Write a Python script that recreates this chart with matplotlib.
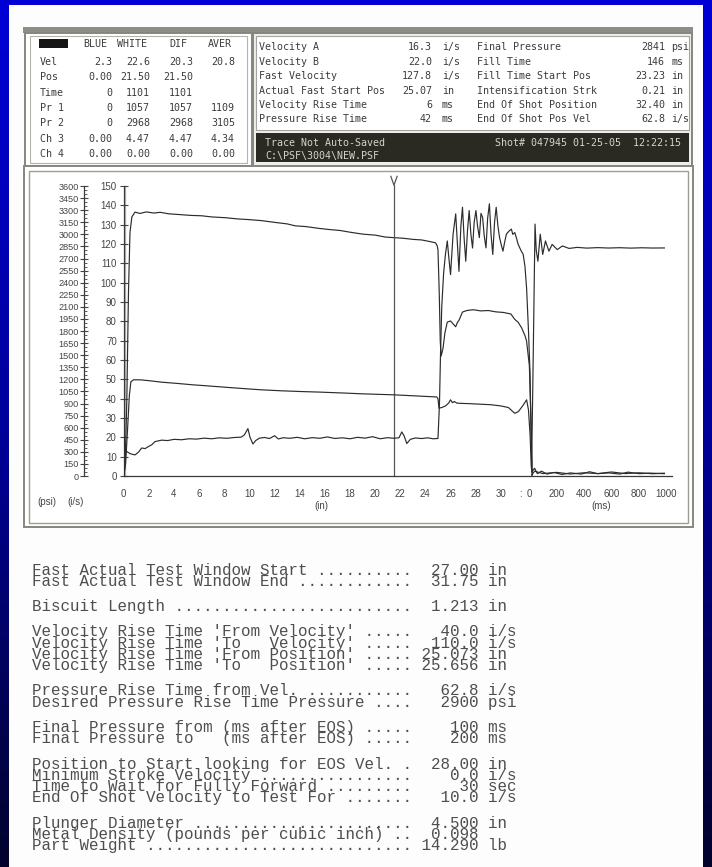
import numpy as np
import matplotlib
matplotlib.use("Agg")
import matplotlib.pyplot as plt
from matplotlib.patches import Rectangle
from matplotlib.colors import LinearSegmentedColormap
from matplotlib.ticker import MultipleLocator

W, H = 712, 867

# ---- shot data -------------------------------------------------------
TABLE_COLS = ["BLUE", "WHITE", "DIF", "AVER"]
TABLE_ROWS = ["Vel", "Pos", "Time", "Pr 1", "Pr 2", "Ch 3", "Ch 4"]
TABLE_VALUES = [
    ["2.3", "22.6", "20.3", "20.8"],
    ["0.00", "21.50", "21.50", ""],
    ["0", "1101", "1101", ""],
    ["0", "1057", "1057", "1109"],
    ["0", "2968", "2968", "3105"],
    ["0.00", "4.47", "4.47", "4.34"],
    ["0.00", "0.00", "0.00", "0.00"],
]
CURSOR_BLUE = 0.00
CURSOR_WHITE = 21.50

SUMMARY_LEFT = [
    ("Velocity A", "16.3", "i/s"),
    ("Velocity B", "22.0", "i/s"),
    ("Fast Velocity", "127.8", "i/s"),
    ("Actual Fast Start Pos", "25.07", "in"),
    ("Velocity Rise Time", "6", "ms"),
    ("Pressure Rise Time", "42", "ms"),
]
SUMMARY_RIGHT = [
    ("Final Pressure", "2841", "psi"),
    ("Fill Time", "146", "ms"),
    ("Fill Time Start Pos", "23.23", "in"),
    ("Intensification Strk", "0.21", "in"),
    ("End Of Shot Position", "32.40", "in"),
    ("End Of Shot Pos Vel", "62.8", "i/s"),
]
STATUS_LINES = ["Trace Not Auto-Saved", "C:\\PSF\\3004\\NEW.PSF"]
SHOT_STAMP = "Shot# 047945 01-25-05  12:22:15"

# velocity (i/s) against plunger position (in)
VEL_SHOT = [
    (0.0, 0), (0.12, 6), (0.25, 40), (0.38, 95), (0.5, 126), (0.65, 134),
    (0.9, 136.5), (1.3, 135.8), (1.8, 136.6), (2.4, 136.0), (2.9, 136.4),
    (3.6, 135.6), (4.5, 135.2), (5.3, 134.8), (6.2, 134.6), (7.0, 134.0),
    (8.1, 133.6), (9.0, 133.0), (10.0, 132.6), (10.95, 132.1), (12.0, 131.2),
    (13.0, 130.4), (13.64, 129.4), (14.5, 129.0), (15.5, 128.1), (16.33, 127.5),
    (17.2, 127.0), (18.1, 126.0), (19.02, 125.1), (20.0, 124.6), (20.8, 123.6),
    (21.45, 123.3), (22.2, 123.0), (23.0, 122.4), (23.7, 122.1), (24.4, 121.2),
    (24.81, 120.6), (24.94, 119.0), (25.0, 117), (25.1, 95), (25.18, 70),
    (25.25, 62), (25.4, 66), (25.55, 74), (25.74, 79.6), (26.0, 80.2),
    (26.2, 78.7), (26.41, 77.2), (26.55, 79.5), (26.67, 80.5), (26.95, 84.8),
    (27.3, 85.6), (27.8, 86.0), (28.4, 85.4), (29.0, 85.6), (29.6, 84.9),
    (30.2, 84.6), (30.8, 83.8), (31.11, 81.0), (31.38, 79.5), (31.65, 76.7),
    (31.92, 72.6), (32.05, 69.7), (32.27, 57), (32.4, 28), (32.5, 2),
]
VEL_AFTER = [  # (ms after end of shot, i/s)
    (18, 2), (40, 4), (60, 1.2), (90, 2.5), (130, 1.0), (180, 1.8), (240, 0.8),
    (300, 1.6), (380, 1.0), (440, 2.2), (500, 1.2), (580, 1.6), (660, 1.0),
    (720, 2.0), (800, 1.2), (880, 1.5), (985, 1.2),
]

# pressure 1 (psi) against position
PR1_SHOT = [
    (0.0, 0), (0.15, 150), (0.3, 560), (0.45, 1000), (0.57, 1170), (0.8, 1195),
    (1.4, 1193), (2.2, 1180), (3.0, 1165), (4.2, 1150), (5.5, 1132), (7.0, 1115),
    (8.5, 1097), (10.0, 1080), (10.95, 1070), (12.5, 1058), (14.0, 1049),
    (15.5, 1042), (16.33, 1037), (17.5, 1030), (19.0, 1020), (20.2, 1014),
    (21.45, 1008), (22.5, 1000), (23.5, 992), (24.4, 985), (24.9, 981),
    (25.0, 960), (25.08, 842), (25.3, 850), (25.6, 870), (25.85, 905),
    (26.0, 946), (26.15, 910), (26.3, 925), (26.5, 905), (26.8, 902),
    (27.5, 898), (28.3, 892), (29.2, 885), (30.0, 870), (30.6, 850),
    (31.11, 778), (31.4, 800), (31.78, 880), (32.05, 946), (32.2, 820),
    (32.33, 500), (32.42, 120), (32.5, 10),
]
PR1_AFTER = [
    (18, 10), (40, 60), (100, 30), (200, 45), (300, 25), (400, 40), (500, 30),
    (600, 50), (700, 30), (800, 40), (900, 28), (985, 35),
]

# pressure 2 (psi) against position
PR2_SHOT = [
    (0.0, 0), (0.03, 480), (0.08, 420), (0.24, 302), (0.55, 275), (0.9, 262),
    (1.2, 300), (1.43, 348), (1.7, 340), (1.96, 365), (2.25, 390), (2.49, 427),
    (3.02, 445), (3.5, 440), (4.0, 455), (4.6, 450), (5.2, 462), (5.8, 458),
    (6.4, 470), (7.0, 462), (7.6, 474), (8.2, 468), (8.8, 478), (9.34, 482),
    (9.6, 510), (9.88, 588), (10.05, 480), (10.28, 398), (10.5, 440),
    (10.8, 470), (11.2, 478), (11.6, 465), (12.0, 500), (12.3, 460),
    (12.7, 475), (13.2, 468), (13.8, 480), (14.4, 462), (15.0, 476),
    (15.6, 468), (16.2, 485), (16.8, 466), (17.4, 474), (18.0, 462),
    (18.6, 480), (19.2, 470), (19.8, 488), (20.4, 462), (21.0, 476),
    (21.5, 468), (21.9, 475), (22.12, 547), (22.3, 500), (22.52, 403),
    (22.8, 455), (23.2, 472), (23.7, 465), (24.2, 474), (24.6, 462),
    (25.0, 466), (25.12, 900), (25.2, 1500), (25.3, 2100), (25.45, 2520),
    (25.6, 2760), (25.74, 2918), (25.87, 2700), (26.0, 2500), (26.2, 3000),
    (26.41, 3254), (26.54, 2900), (26.67, 2540), (26.82, 3100), (26.95, 3336),
    (27.08, 2950), (27.21, 2666), (27.35, 3050), (27.48, 3295), (27.62, 3000),
    (27.75, 2830), (27.88, 3150), (28.02, 3295), (28.15, 3100), (28.29, 2959),
    (28.42, 3260), (28.55, 3211), (28.68, 2980), (28.82, 2832), (28.95, 3200),
    (29.09, 3379), (29.22, 3000), (29.36, 2750), (29.5, 3150), (29.63, 3336),
    (29.77, 3100), (29.9, 2959), (30.05, 2860), (30.17, 2791), (30.3, 2900),
    (30.44, 3002), (30.65, 3040), (30.84, 3065), (30.95, 3000), (31.11, 3022),
    (31.25, 2950), (31.38, 2875), (31.6, 2800), (31.78, 2750), (31.92, 2600),
    (32.05, 2330), (32.2, 1800), (32.32, 1282), (32.45, 106),
]
PR2_AFTER = [
    (18, 106), (30, 1500), (43, 3127), (52, 2800), (64, 2666), (81, 3002),
    (99, 2750), (119, 2918), (144, 2791), (168, 2875), (205, 2810), (242, 2856),
    (291, 2825), (350, 2838), (420, 2829), (500, 2835), (580, 2830),
    (660, 2834), (740, 2829), (820, 2833), (900, 2830), (985, 2831),
]

POS_TICKS = list(range(0, 31, 2))
MS_TICKS = [0, 200, 400, 600, 800, 1000]
VEL_TICKS = list(range(0, 151, 10))
PSI_TICKS = list(range(0, 3601, 150))

# machine setup listing printed under the screen dump
SETTINGS = [
    [("Fast Actual Test Window Start", "27.00", "in"),
     ("Fast Actual Test Window End", "31.75", "in")],
    [("Biscuit Length", "1.213", "in")],
    [("Velocity Rise Time 'From Velocity'", "40.0", "i/s"),
     ("Velocity Rise Time 'To   Velocity'", "110.0", "i/s"),
     ("Velocity Rise Time 'From Position'", "25.073", "in"),
     ("Velocity Rise Time 'To   Position'", "25.656", "in")],
    [("Pressure Rise Time from Vel.", "62.8", "i/s"),
     ("Desired Pressure Rise Time Pressure", "2900", "psi")],
    [("Final Pressure from (ms after EOS)", "100", "ms"),
     ("Final Pressure to   (ms after EOS)", "200", "ms")],
    [("Position to Start looking for EOS Vel.", "28.00", "in"),
     ("Minimum Stroke Velocity", "0.0", "i/s"),
     ("Time to Wait for Fully Forward", "30", "sec"),
     ("End Of Shot Velocity to Test For", "10.0", "i/s")],
    [("Plunger Diameter", "4.500", "in"),
     ("Metal Density (pounds per cubic inch)", "0.098", ""),
     ("Part Weight", "14.290", "lb")],
]

# time axis after end of shot is squeezed onto the position axis
MS_ZERO = 32.25
MS_SCALE = 0.010923


def ms_to_x(ms):
    return MS_ZERO + np.asarray(ms, dtype=float) * MS_SCALE


def trace(shot, after):
    s = np.array(shot, dtype=float)
    a = np.array(after, dtype=float)
    return np.concatenate([s[:, 0], ms_to_x(a[:, 0])]), np.concatenate([s[:, 1], a[:, 1]])


def fx(px):
    return px / W


def fy(py):
    return 1 - py / H


def box(fig, x0, y0, x1, y1, **kw):
    fig.add_artist(Rectangle((fx(x0), fy(y1)), (x1 - x0) / W, (y1 - y0) / H,
                             transform=fig.transFigure, **kw))


plt.rcParams['font.family'] = ['Liberation Sans', 'DejaVu Sans']
fig = plt.figure(figsize=(W / 100, H / 100), dpi=100)

# blue slide background
bg = fig.add_axes([0, 0, 1, 1], zorder=-10)
cmap = LinearSegmentedColormap.from_list("slide", ["#0000d6", "#00009a", "#03032c"])
bg.imshow(np.linspace(0, 1, 256)[:, None], aspect='auto', cmap=cmap, extent=[0, 1, 0, 1])
bg.axis('off')

box(fig, 9, 5, 703, 867, fc='#fdfdfd', ec='none')

# screen dump frames
EDGE = '#86867f'
box(fig, 23, 27, 693, 33, fc='#8e8e86', ec='none')
box(fig, 25, 33, 252, 166, fc='white', ec=EDGE, lw=1.4)
box(fig, 30, 36, 247, 163, fc='none', ec='#b4b4ae', lw=0.8)
box(fig, 253, 33, 692, 166, fc='#efefe9', ec=EDGE, lw=1.4)
box(fig, 256, 36, 689, 130, fc='white', ec='#a4a49e', lw=0.8)
box(fig, 256, 133, 689, 162, fc='#2a2a22', ec='none')
box(fig, 24, 166, 693, 527, fc='white', ec=EDGE, lw=1.4)
box(fig, 29, 171, 688, 523, fc='none', ec='#9e9e98', lw=1.0)

SCREEN_FONT = dict(family='DejaVu Sans Mono', fontsize=7.2, color='#3c3c3c')

# cursor table
box(fig, 39, 39, 68, 48, fc='#151515', ec='none')
for name, cx in zip(TABLE_COLS, [95, 132, 178, 220]):
    fig.text(fx(cx), fy(44), name, ha='center', va='center', **SCREEN_FONT)
col_right = [112, 150, 193, 235]
for i, (row, vals) in enumerate(zip(TABLE_ROWS, TABLE_VALUES)):
    y = fy(61.7 + i * 15.4)
    fig.text(fx(40), y, row, ha='left', va='center', **SCREEN_FONT)
    for v, xr in zip(vals, col_right):
        fig.text(fx(xr), y, v, ha='right', va='center', **SCREEN_FONT)

# shot summary
for i, ((l1, v1, u1), (l2, v2, u2)) in enumerate(zip(SUMMARY_LEFT, SUMMARY_RIGHT)):
    y = fy(47.3 + i * 14.4)
    fig.text(fx(259), y, l1, ha='left', va='center', **SCREEN_FONT)
    fig.text(fx(432), y, v1, ha='right', va='center', **SCREEN_FONT)
    fig.text(fx(442), y, u1, ha='left', va='center', **SCREEN_FONT)
    fig.text(fx(477), y, l2, ha='left', va='center', **SCREEN_FONT)
    fig.text(fx(665), y, v2, ha='right', va='center', **SCREEN_FONT)
    fig.text(fx(671), y, u2, ha='left', va='center', **SCREEN_FONT)

status_font = dict(SCREEN_FONT, color='#d4d4cc')
fig.text(fx(265), fy(143.3), STATUS_LINES[0], ha='left', va='center', **status_font)
fig.text(fx(265), fy(156.0), STATUS_LINES[1], ha='left', va='center', **status_font)
fig.text(fx(681), fy(143.3), SHOT_STAMP, ha='right', va='center', **status_font)

# trace plot: velocity axis plus pressure axis on the far left
ax = fig.add_axes([123.7 / W, 1 - 476 / H, (671.8 - 123.7) / W, 290 / H])
ax.set_zorder(5)
ax.patch.set_visible(False)
ax2 = ax.twinx()
ax2.set_zorder(6)
ax2.patch.set_visible(False)

INK = '#2c2c2c'
TICK_INK = '#454545'

x, y = trace(VEL_SHOT, VEL_AFTER)
ax.plot(x, y, color=INK, lw=0.85)
x, y = trace(PR1_SHOT, PR1_AFTER)
ax2.plot(x, y, color=INK, lw=0.85)
x, y = trace(PR2_SHOT, PR2_AFTER)
ax2.plot(x, y, color=INK, lw=0.85)

ax.axvline(CURSOR_BLUE, ymin=0, ymax=1, color='#b8b8b8', lw=2.4, zorder=0)
ax.plot([CURSOR_WHITE, CURSOR_WHITE], [0, 150.4], color='#555555', lw=0.9, clip_on=False)
ax.plot([CURSOR_WHITE - 0.25, CURSOR_WHITE, CURSOR_WHITE + 0.25], [155, 150.4, 155],
        color='#555555', lw=0.9, clip_on=False)

ax.set_xlim(0, 43.6)
ax.set_ylim(0, 150)
ax2.set_ylim(0, 3600)

xt = POS_TICKS + [31.55] + list(ms_to_x(MS_TICKS))
xl = [str(t) for t in POS_TICKS] + [':'] + [str(t) for t in MS_TICKS]
ax.set_xticks(xt)
ax.set_xticklabels(xl)
ax.tick_params(axis='x', length=0, pad=9, labelsize=7, colors=TICK_INK)

ax.set_yticks(VEL_TICKS)
ax.tick_params(axis='y', direction='inout', length=6, width=0.8, pad=2,
               labelsize=7, colors=TICK_INK)

ax2.yaxis.tick_left()
ax2.set_yticks(PSI_TICKS)
ax2.yaxis.set_minor_locator(MultipleLocator(50))
ax2.tick_params(axis='y', which='major', direction='inout', length=6, width=0.8,
                pad=1, labelsize=6.6, colors=TICK_INK)
ax2.tick_params(axis='y', which='minor', direction='in', length=2.5, width=0.6,
                colors=TICK_INK)

for side in ['top', 'right']:
    ax.spines[side].set_visible(False)
for side in ['top', 'right', 'bottom']:
    ax2.spines[side].set_visible(False)
ax2.spines['left'].set_visible(True)
ax2.spines['left'].set_position(('outward', 28.4))
for sp in [ax.spines['left'], ax.spines['bottom'], ax2.spines['left']]:
    sp.set_color('#3a3a3a')
    sp.set_linewidth(0.9)

unit_font = dict(fontsize=7, color=TICK_INK, va='center', ha='center')
fig.text(fx(47), fy(502), '(psi)', **unit_font)
fig.text(fx(76), fy(502), '(i/s)', **unit_font)
fig.text(fx(321), fy(505.5), '(in)', **unit_font)
fig.text(fx(601), fy(505.5), '(ms)', **unit_font)

# settings listing, one text block per group with tight line spacing;
# a multi-line text anchored at 'baseline' sits on its last line
LIST_FONT = dict(family='Liberation Mono', fontsize=11.4, color='#4e4e4e')
STEP = 11.65
GAP = 24.6
first = 574.5
for group in SETTINGS:
    lines = [(label + ' ').ljust(40, '.') + ' ' + value.rjust(6) + (' ' + unit if unit else '')
             for label, value, unit in group]
    last = first + STEP * (len(group) - 1)
    fig.text(fx(32.3), fy(last), '\n'.join(lines), ha='left', va='baseline',
             linespacing=0.69, **LIST_FONT)
    first = last + GAP

fig.savefig('out.png', dpi=100)
